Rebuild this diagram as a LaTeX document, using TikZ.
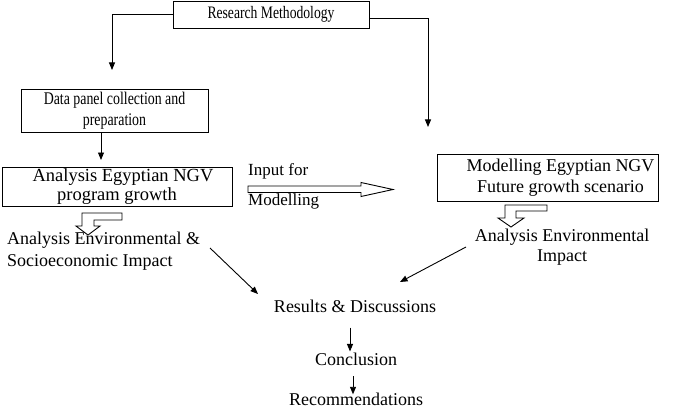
\documentclass[tikz,border=0pt]{standalone}
\usepackage{fontspec}
\setmainfont{Liberation Serif}
\newfontfamily\cond[FakeStretch=0.78]{Liberation Serif}
\usetikzlibrary{arrows.meta}
\tikzset{
  box/.style={draw, line width=0.9pt, inner sep=0pt, align=center},
  lbl/.style={inner sep=0pt, align=center},
  arr/.style={-{Triangle[length=7.5pt,width=6pt]}, line width=0.9pt},
  hollow/.style={draw, line width=0.9pt, fill=white, line join=miter},
}
\begin{document}
\begin{tikzpicture}[x=1pt,y=-1pt]
\useasboundingbox[fill=white] (0,0) rectangle (685,409);

% boxes
\node[box, minimum width=196pt, minimum height=27pt, font=\cond\fontsize{17.5}{20}\selectfont] (rm) at (271,14.5) {Research Methodology};
\node[box, minimum width=187pt, minimum height=43pt, font=\cond\fontsize{17.8}{20.5}\selectfont] (dp) at (114.5,110.5) {Data panel collection and\\preparation};
\node[box, minimum width=230pt, minimum height=39pt, font=\fontsize{18.5}{19}\selectfont] (an) at (117,186.5) {\hspace*{12pt}Analysis Egyptian NGV\\program growth};
\node[box, minimum width=221pt, minimum height=47pt, font=\fontsize{18}{21}\selectfont] (mo) at (547.5,177.5) {\hspace*{26pt}Modelling Egyptian NGV\\\hspace*{26pt}Future growth scenario};

% labels
\node[lbl, align=left, anchor=west, font=\fontsize{18}{22}\selectfont] (ae1) at (7,251) {Analysis Environmental \&\\Socioeconomic Impact};
\node[lbl, font=\fontsize{18}{20}\selectfont] (ae2) at (562,247) {Analysis Environmental\\Impact};
\node[lbl, align=left, anchor=west, font=\fontsize{17}{30}\selectfont] (inp) at (248,186) {Input for\\Modelling};
\node[lbl, font=\fontsize{18}{21}\selectfont] (res) at (355,306) {Results \& Discussions};
\node[lbl, font=\fontsize{18}{21}\selectfont] (con) at (356,359.5) {Conclusion};
\node[lbl, anchor=base, font=\fontsize{18}{21}\selectfont] (rec) at (356,405) {Recommendations};

% connectors from top box
\coordinate (c1) at (112,70);
\coordinate (c2) at (428,127);
\draw[arr] (rm.west) -| (c1);
\draw[arr] ([yshift=-3.5pt]rm.east) -| (c2);

\coordinate (c3) at (101,160);
\draw[arr] (dp.south -| c3) -- (c3);

% hollow input arrow
\draw[hollow] (248,186) -- (361,186) -- (361,182.5) -- (393,189.5) -- (361,196.5) -- (361,192.5) -- (248,192.5) -- cycle;

% hollow elbow arrows
\draw[hollow] (122,213) -- (122,220) -- (94,220) -- (94,226) -- (100,226) -- (88,235) -- (76,226) -- (82,226) -- (82,213) -- cycle;
\draw[hollow] (547,205) -- (547,211) -- (516,211) -- (516,218) -- (524,218) -- (511,227) -- (498,218) -- (505,218) -- (505,205) -- cycle;

% to results
\coordinate (p1) at (210,248);
\coordinate (p2) at (258,294);
\coordinate (q1) at (466,247);
\coordinate (q2) at (400,282);
\draw[arr] (p1) -- (p2);
\draw[arr] (q1) -- (q2);

\draw[arr, shorten <=15pt, shorten >=1.5pt] ([xshift=-5pt]res.south) -- ([xshift=-6pt]con.north);
\draw[arr, shorten <=10pt, shorten >=-2pt] ([xshift=-3pt]con.south) -- ([xshift=-3pt]rec.north);
\end{tikzpicture}
\end{document}
